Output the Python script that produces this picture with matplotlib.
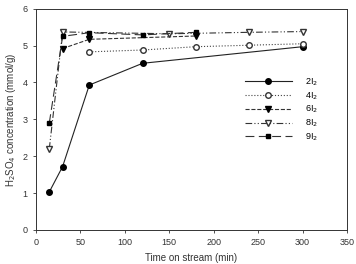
import matplotlib
matplotlib.use("Agg")
import matplotlib.pyplot as plt

# data
t_2 = [15, 30, 60, 120, 300]
c_2 = [1.03, 1.72, 3.93, 4.52, 4.97]
t_4 = [60, 120, 180, 240, 300]
c_4 = [4.83, 4.88, 4.97, 5.01, 5.05]
t_6 = [30, 60, 180]
c_6 = [4.92, 5.17, 5.26]
t_8 = [15, 30, 150, 240, 300]
c_8 = [2.2, 5.37, 5.32, 5.36, 5.38]
t_9 = [15, 30, 60, 120, 180]
c_9 = [2.9, 5.25, 5.35, 5.29, 5.36]

plt.rcParams['font.family'] = 'Liberation Sans'
plt.rcParams['font.size'] = 6

fig = plt.figure(figsize=(3.56, 2.64), dpi=100)
ax = fig.add_axes([0.101, 0.129, 0.874, 0.838])

ms = 4
ax.plot(t_2, c_2, '-', color='#222222', lw=0.8, marker='o', ms=ms, mfc='black', mec='black', label='2I$_2$')
ax.plot(t_4, c_4, ':', color='#444444', lw=0.8, marker='o', ms=ms, mfc='white', mec='#333333', label='4I$_2$')
ax.plot(t_6, c_6, '--', color='#333333', lw=0.8, marker='v', ms=ms, mfc='black', mec='black', label='6I$_2$')
ax.plot(t_8, c_8, linestyle=(0, (6, 2, 1, 2, 1, 2)), color='#333333', lw=0.8, marker='v', ms=ms, mfc='white', mec='#333333', label='8I$_2$')
ax.plot(t_9, c_9, linestyle=(0, (8, 4)), color='#333333', lw=0.8, marker='s', ms=ms - 0.5, mfc='black', mec='black', label='9I$_2$')

ax.set_xlim(0, 350)
ax.set_ylim(0, 6)
ax.set_xticks(range(0, 351, 50))
ax.set_yticks(range(0, 7))
ax.tick_params(direction='out', length=2.5, width=0.6, colors='#333333', labelsize=6.5)
for s in ax.spines.values():
    s.set_linewidth(0.7)
    s.set_color('#333333')

ax.set_xlabel("Time on stream (min)", fontsize=7, color='#333333', labelpad=4)
ax.set_ylabel("H$_2$SO$_4$ concentration (mmol/g)", fontsize=7, color='#333333', labelpad=3)

leg = ax.legend(loc='upper left', bbox_to_anchor=(0.66, 0.71), frameon=False, fontsize=6.5,
                handlelength=5.2, labelspacing=0.25, handletextpad=1.4, borderaxespad=0)

fig.savefig("out.png", dpi=100)
